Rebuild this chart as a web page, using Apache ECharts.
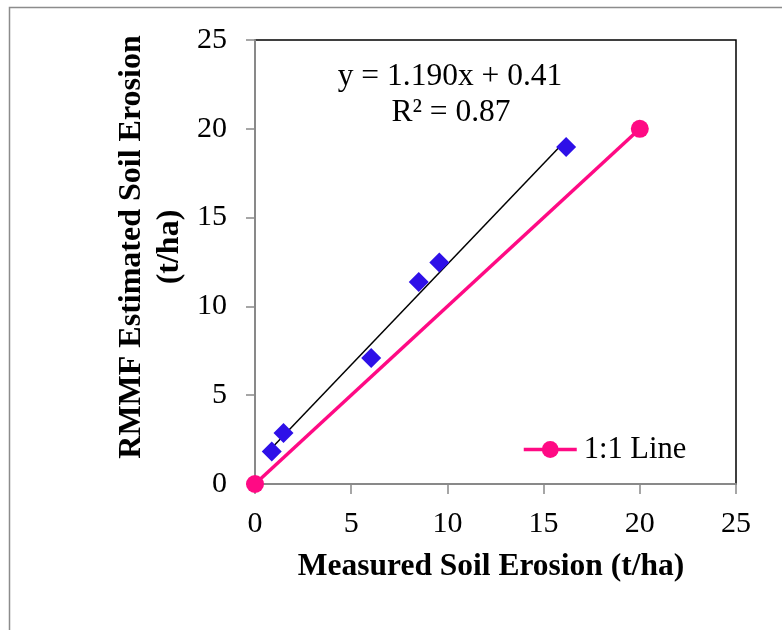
<!DOCTYPE html>
<html>
<head>
<meta charset="utf-8">
<script src="https://cdn.jsdelivr.net/npm/echarts@6/dist/echarts.min.js"></script>
<style>
html,body{margin:0;padding:0;background:#fff;}
#chart{width:782px;height:630px;}
</style>
</head>
<body>
<div id="chart"></div>
<script>
// Data
var measured = [0.87, 1.48, 6.04, 8.51, 9.58, 16.17];
var estimated = [1.83, 2.87, 7.09, 11.37, 12.47, 18.97];
var oneToOneX = [0, 20];
var oneToOneY = [0, 20];
var equationText = 'y = 1.190x + 0.41';
var r2Text = 'R\u00B2 = 0.87';
var xTitle = 'Measured Soil Erosion (t/ha)';
var yTitle = 'RMMF Estimated Soil Erosion\n(t/ha)';
var legendName = '1:1 Line';

var FONT = '"Liberation Serif", "Times New Roman", serif';

// least-squares trendline through the measured points
var n = measured.length, sx = 0, sy = 0, sxx = 0, sxy = 0;
for (var i = 0; i < n; i++) { sx += measured[i]; sy += estimated[i]; sxx += measured[i]*measured[i]; sxy += measured[i]*estimated[i]; }
var slope = (n*sxy - sx*sy) / (n*sxx - sx*sx);
var icpt = (sy - slope*sx) / n;
var xmin = Math.min.apply(null, measured), xmax = Math.max.apply(null, measured);
var trend = [[xmin, slope*xmin + icpt], [xmax, slope*xmax + icpt]];

var scatterData = measured.map(function (v, k) { return [v, estimated[k]]; });
var oneData = oneToOneX.map(function (v, k) { return [v, oneToOneY[k]]; });

var PINK = '#FF0A84';
var chart = echarts.init(document.getElementById('chart'), null, {renderer: 'canvas'});
chart.setOption({
  animation: false,
  backgroundColor: '#fff',
  grid: {left: 255, top: 40, width: 481, height: 444, show: true, borderColor: '#000', borderWidth: 1.5, backgroundColor: 'transparent'},
  xAxis: {
    type: 'value', min: 0, max: 25, interval: 5,
    splitLine: {show: false},
    axisLine: {show: true, onZero: false, lineStyle: {color: '#898989', width: 2}},
    axisTick: {show: true, inside: false, length: 10, lineStyle: {color: '#898989', width: 1.5}},
    axisLabel: {color: '#000', fontFamily: FONT, fontSize: 30, margin: 25}
  },
  yAxis: {
    type: 'value', min: 0, max: 25, interval: 5,
    splitLine: {show: false},
    axisLine: {show: true, onZero: false, lineStyle: {color: '#898989', width: 2}},
    axisTick: {show: true, inside: false, length: 9, lineStyle: {color: '#898989', width: 1.5}},
    axisLabel: {color: '#000', fontFamily: FONT, fontSize: 30, margin: 28}
  },
  legend: {
    show: true, data: [legendName], left: 522, top: 434, padding: 0,
    itemWidth: 53, itemHeight: 21, itemGap: 3,
    lineStyle: {width: 3.5, color: PINK},
    itemStyle: {color: PINK, borderWidth: 0},
    textStyle: {fontFamily: FONT, fontSize: 30.5, color: '#000', padding: [0,0,0,2]}
  },
  series: [
    {
      type: 'line', name: 'trend', data: trend, showSymbol: false, symbol: 'none',
      lineStyle: {color: '#000', width: 1.5}, z: 3, silent: true
    },
    {
      type: 'scatter', name: 'obs', data: scatterData, symbol: 'diamond', symbolSize: 20,
      itemStyle: {color: '#2E10E8', opacity: 1}, z: 4
    },
    {
      type: 'line', name: legendName, data: oneData, symbol: 'circle', symbolSize: 18,
      showSymbol: true,
      lineStyle: {color: PINK, width: 3.5}, itemStyle: {color: PINK, borderWidth: 0, opacity: 1}, z: 5
    }
  ],
  graphic: [
    {type: 'rect', shape: {x: 9.5, y: 7.5, width: 1000, height: 1000}, style: {fill: 'none', stroke: '#8c8c8c', lineWidth: 1.5}, z: -10, silent: true},
    {type: 'text', x: 450, y: 77, style: {text: equationText, font: '31.5px ' + FONT, fill: '#000', textAlign: 'center', textVerticalAlign: 'middle'}},
    {type: 'text', x: 451, y: 113, style: {text: r2Text, font: '31.5px ' + FONT, fill: '#000', textAlign: 'center', textVerticalAlign: 'middle'}},
    {type: 'text', x: 491, y: 567, style: {text: xTitle, font: 'bold 31.5px ' + FONT, fill: '#000', textAlign: 'center', textVerticalAlign: 'middle'}},
    {type: 'text', x: 151, y: 247, rotation: Math.PI/2, style: {text: yTitle, font: 'bold 32px ' + FONT, lineHeight: 38, fill: '#000', textAlign: 'center', textVerticalAlign: 'middle'}}
  ]
});
</script>
</body>
</html>
